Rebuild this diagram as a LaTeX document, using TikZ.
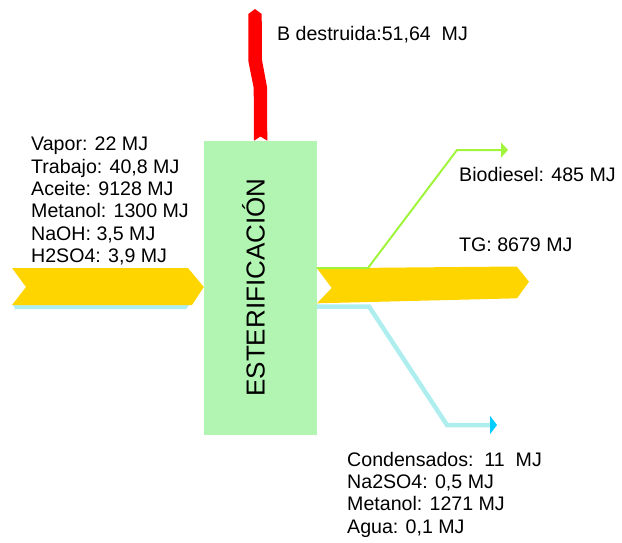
\documentclass[tikz,border=0pt]{standalone}
\usepackage{fontspec}
\setmainfont{Liberation Sans}
\usetikzlibrary{arrows.meta}
\definecolor{boxgreen}{RGB}{178,245,178}
\definecolor{flowyellow}{RGB}{255,213,0}
\definecolor{flowcyan}{RGB}{175,238,238}
\definecolor{tipcyan}{RGB}{0,205,255}
\definecolor{linegreen}{RGB}{160,245,60}
\definecolor{flowred}{RGB}{255,0,0}
\tikzset{
  lbl/.style={anchor=base west,inner sep=0pt,font=\fontsize{19.6}{22}\selectfont},
  procbox/.style={fill=boxgreen,draw=none,minimum width=112.5pt,minimum height=294.5pt,inner sep=0pt},
  proctext/.style={rotate=90,inner sep=0pt,font=\fontsize{26}{30}\selectfont},
}
\begin{document}
\begin{tikzpicture}[x=1pt,y=-1pt]
\useasboundingbox (0,0) rectangle (622,542);
% process box
\node[procbox] (esterif) at (260.25,287.85) {};
\node[proctext] (esttxt) at (253.5,287.5) {ESTERIFICACIÓN};
% named coordinates
\coordinate (inL) at (12,268);
\coordinate (outL) at (316.7,268);
\coordinate (gA) at (368,268);
\coordinate (gB) at (457,150);
\coordinate (gEnd) at (508,150);
\coordinate (cA) at (316.7,306.5);
\coordinate (cB) at (369,306.5);
\coordinate (cC) at (447,425);
\coordinate (cEnd) at (497,425);
% input flow
\fill[flowcyan] (13,304) -- (190,304) -- (186,309) -- (15,309) -- cycle;
\fill[flowyellow] (inL) -- (188,268) -- (esterif.west |- 0,287) -- (192,305) -- (12,305) -- (26,287) -- cycle;
% destroyed exergy (red)
\fill[flowred] (248.3,14) -- (255,9) -- (261.7,14) -- (262,60) -- (267,87) -- (267.3,140.7)
  -- (260.5,136.5) -- (254,140.7) -- (253.7,88) -- (248.5,62) -- cycle;
% cyan output
\draw[flowcyan,line width=4.5pt,-{Triangle[length=7pt,width=18pt,color=tipcyan]}]
  (cA) -- (cB) -- (cC) -- (cEnd);
% yellow output
\fill[flowyellow] (317,268.3) -- (516.7,266.5) -- (529,281.7) -- (517,298.3) -- (317,303.3) -- (331.7,288) -- cycle;
% green output
\draw[linegreen,line width=2pt,-{Triangle[length=7pt,width=15pt]}]
  (outL) -- (gA) -- (gB) -- (gEnd);
% labels
\node[lbl] (bdes) at (277,40) {B destruida:51,64\ \ MJ};
\node[lbl] (l1) at (31,150.7) {Vapor: 22 MJ};
\node[lbl] (l2) at (31,173) {Trabajo: 40,8 MJ};
\node[lbl] (l3) at (31,195.4) {Aceite: 9128 MJ};
\node[lbl] (l4) at (31,217.8) {Metanol: 1300 MJ};
\node[lbl] (l5) at (31,240.2) {NaOH: 3,5 MJ};
\node[lbl] (l6) at (31,262.6) {H2SO4: 3,9 MJ};
\node[lbl] (bio) at (459,181) {Biodiesel: 485 MJ};
\node[lbl] (tg) at (459,251.7) {TG: 8679 MJ};
\node[lbl] (r1) at (347,466) {Condensados:\ \ 11\ \ MJ};
\node[lbl] (r2) at (347,488.4) {Na2SO4: 0,5 MJ};
\node[lbl] (r3) at (347,510.8) {Metanol: 1271 MJ};
\node[lbl] (r4) at (347,533.2) {Agua: 0,1 MJ};
\end{tikzpicture}
\end{document}
